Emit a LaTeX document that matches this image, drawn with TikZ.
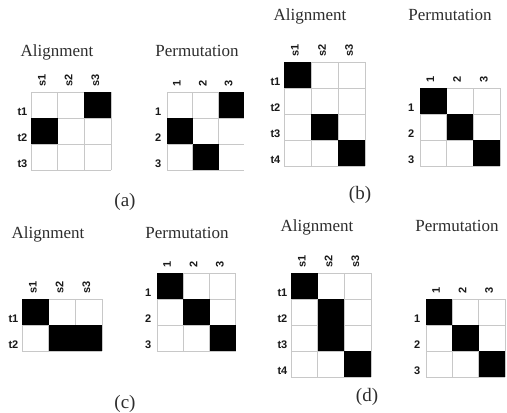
\documentclass[tikz,border=0pt]{standalone}
\usepackage{fontspec}
\setmainfont{Liberation Serif}
\setsansfont{Liberation Sans}
\definecolor{gridgray}{RGB}{200,200,200}
\definecolor{textgray}{RGB}{45,45,45}
\definecolor{labgray}{RGB}{25,25,25}
\tikzset{
  gridline/.style={draw=gridgray, line width=0.9pt},
  cellfill/.style={fill=black},
  title/.style={inner sep=0pt, anchor=base, text=textgray, font=\fontsize{17}{17}\selectfont},
  caption/.style={inner sep=0pt, anchor=base, text=textgray, font=\fontsize{19}{19}\selectfont},
  collab/.style={inner sep=0pt, anchor=west, rotate=90, text=labgray, font=\sffamily\bfseries\fontsize{11}{11}\selectfont},
  rowlab/.style={inner sep=0pt, anchor=base east, text=labgray, font=\sffamily\bfseries\fontsize{11}{11}\selectfont},
}
% #1 name, #2 left, #3 top, #4 cw, #5 ch, #6 ncols, #7 nrows, #8 black cells c/r, #9 last vertical line index
\newcommand\gridbase[9]{%
  \foreach \i in {0,...,#9} \draw[gridline] ({#2+\i*#4},#3) -- ({#2+\i*#4},{#3+#7*#5});
  \foreach \j in {0,...,#7} \draw[gridline] (#2,{#3+\j*#5}) -- ({#2+#6*#4},{#3+\j*#5});
  \foreach \c/\r in {#8} \fill[cellfill] ({#2+(\c-1)*#4},{#3+(\r-1)*#5}) rectangle ++(#4,#5);
}
% alignment labels: #1 name, #2 left, #3 top, #4 cw, #5 ch, #6 ncols, #7 nrows
\newcommand\alabels[7]{%
  \foreach \i in {1,...,#6} \node[collab] (#1c\i) at ({#2+(\i-0.5)*#4-2.5},{#3-5}) {s\i};
  \foreach \j in {1,...,#7} \node[rowlab] (#1r\j) at ({#2-3.5},{#3+\j*#5-3}) {t\j};
}
\newcommand\plabels[7]{%
  \foreach \i in {1,...,#6} \node[collab] (#1c\i) at ({#2+(\i-0.5)*#4-3},{#3-5}) {\i};
  \foreach \j in {1,...,#7} \node[rowlab] (#1r\j) at ({#2-5.5},{#3+\j*#5-3}) {\j};
}
\begin{document}
\begin{tikzpicture}[x=1pt,y=-1pt]
\useasboundingbox[fill=white] (0,0) rectangle (507,413);

% ---- (a)
\node[title] (aAt) at (57,56.5) {Alignment};
\node[title] (aPt) at (197,56.5) {Permutation};
\gridbase{aA}{31}{92}{26.7}{26}{3}{3}{3/1,1/2}{3}
\alabels{aA}{31}{92}{26.7}{26}{3}{3}
\gridbase{aP}{167}{92}{25.8}{26}{3}{3}{3/1,1/2,2/3}{2}
\plabels{aP}{167}{92}{25.8}{26}{3}{3}
\node[caption] (capa) at (125,206.5) {(a)};

% ---- (b)
\node[title] (bAt) at (310,20.5) {Alignment};
\node[title] (bPt) at (450,20.5) {Permutation};
\gridbase{bA}{284}{62}{27}{26}{3}{4}{1/1,2/3,3/4}{3}
\alabels{bA}{284}{62}{27}{26}{3}{4}
\gridbase{bP}{420}{88}{26.7}{26}{3}{3}{1/1,2/2,3/3}{3}
\plabels{bP}{420}{88}{26.7}{26}{3}{3}
\node[caption] (capb) at (360,199.5) {(b)};

% ---- (c)
\node[title] (cAt) at (48,238.3) {Alignment};
\node[title] (cPt) at (187,238.3) {Permutation};
\gridbase{cA}{22}{299}{26.7}{26}{3}{2}{1/1,2/2,3/2}{3}
\alabels{cA}{22}{299}{26.7}{26}{3}{2}
\gridbase{cP}{157}{273}{26.3}{26}{3}{3}{1/1,2/2,3/3}{3}
\plabels{cP}{157}{273}{26.3}{26}{3}{3}
\node[caption] (capc) at (125,408) {(c)};

% ---- (d)
\node[title] (dAt) at (317,231.7) {Alignment};
\node[title] (dPt) at (457,231.7) {Permutation};
\gridbase{dA}{291}{273}{26.7}{26}{3}{4}{1/1,2/2,2/3,3/4}{3}
\alabels{dA}{291}{273}{26.7}{26}{3}{4}
\gridbase{dP}{426}{299}{26.4}{26}{3}{3}{1/1,2/2,3/3}{3}
\plabels{dP}{426}{299}{26.4}{26}{3}{3}
\node[caption] (capd) at (367,401.7) {(d)};
\end{tikzpicture}
\end{document}
